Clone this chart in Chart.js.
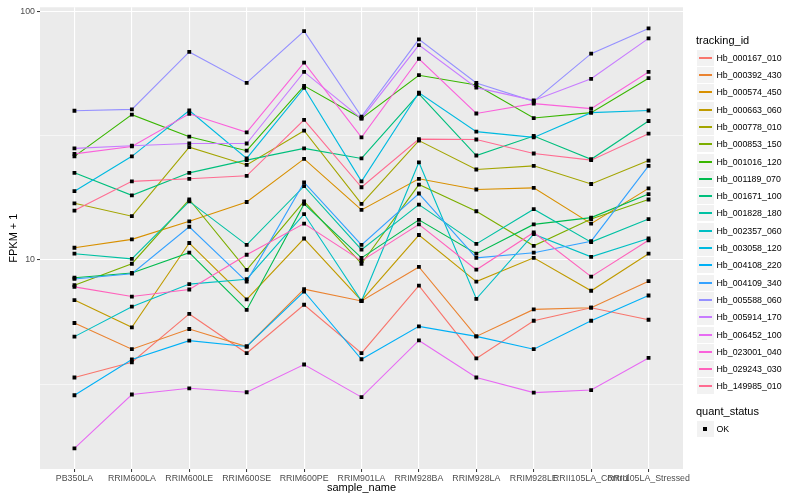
<!DOCTYPE html>
<html><head><meta charset="utf-8">
<script src="https://cdn.jsdelivr.net/npm/chart.js@4.4.1/dist/chart.umd.min.js"></script>
<style>
html,body{margin:0;padding:0;background:#fff;}
#wrap{position:relative;width:800px;height:500px;font-family:"Liberation Sans",Arial,sans-serif;}
canvas{position:absolute;left:0;top:0;}
.ttl{font-size:11px;color:#000;position:absolute;left:696px;white-space:nowrap;line-height:13px;}
.row{position:absolute;left:697px;height:17px;width:100px;}
.key{position:absolute;left:0;top:0;width:17px;height:16px;background:#F2F2F2;}
.key i{position:absolute;left:2px;width:13px;top:7px;height:2px;}
.key b{position:absolute;left:6px;top:6px;width:4px;height:4px;background:#000;}
.lab{position:absolute;left:19.5px;top:0;line-height:16px;font-size:8.8px;color:#000;white-space:nowrap;}
</style></head>
<body>
<div id="wrap"><canvas id="c" width="800" height="500"></canvas><div id="legend"></div></div>
<script>
const sampleNames = ["PB350LA","RRIM600LA","RRIM600LE","RRIM600SE","RRIM600PE","RRIM901LA","RRIM928BA","RRIM928LA","RRIM928LE","RRII105LA_Control","RRII105LA_Stressed"];
const trackingIds = ["Hb_000167_010","Hb_000392_430","Hb_000574_450","Hb_000663_060","Hb_000778_010","Hb_000853_150","Hb_001016_120","Hb_001189_070","Hb_001671_100","Hb_001828_180","Hb_002357_060","Hb_003058_120","Hb_004108_220","Hb_004109_340","Hb_005588_060","Hb_005914_170","Hb_006452_100","Hb_023001_040","Hb_029243_030","Hb_149985_010"];
const yTickValues = [3.1623, 10, 31.623, 100];
const yTickLabels = {10: "10", 100: "100"};

const hb_000167_010 = [3.37, 3.88, 6.07, 4.22, 6.61, 4.22, 7.89, 4.02, 5.70, 6.43, 5.75];
const hb_000392_430 = [5.58, 4.38, 5.28, 4.49, 7.63, 6.84, 9.38, 4.93, 6.33, 6.43, 8.22];
const hb_000574_450 = [11.2, 12.1, 14.3, 17.1, 25.5, 15.9, 21.2, 19.2, 19.5, 14.0, 19.4];
const hb_000663_060 = [6.90, 5.36, 11.7, 6.94, 12.2, 6.86, 12.6, 8.19, 10.2, 7.52, 10.6];
const hb_000778_010 = [16.9, 15.0, 28.4, 24.1, 33.1, 16.8, 30.2, 23.1, 23.9, 20.2, 25.1];
const hb_000853_150 = [7.92, 9.66, 17.5, 9.12, 17.2, 9.66, 20.1, 15.7, 11.4, 14.6, 17.5];
const hb_001016_120 = [26.1, 38.4, 31.3, 27.5, 50.1, 37.1, 55.3, 50.5, 37.2, 39.1, 53.8];
const hb_001189_070 = [8.49, 8.87, 10.7, 6.30, 16.8, 10.2, 14.5, 10.6, 13.9, 14.8, 18.4];
const hb_001671_100 = [22.4, 18.2, 22.4, 25.2, 28.1, 25.6, 46.5, 26.3, 31.5, 25.4, 36.2];
const hb_001828_180 = [10.6, 10.1, 17.2, 11.5, 19.8, 11.0, 16.7, 11.6, 16.0, 11.8, 14.6];
const hb_002357_060 = [4.92, 6.49, 8.00, 8.37, 15.3, 6.84, 24.7, 6.98, 12.7, 10.3, 12.2];
const hb_003058_120 = [18.9, 26.1, 39.9, 25.6, 49.2, 20.7, 47.0, 32.8, 31.1, 39.1, 39.9];
const hb_004108_220 = [2.86, 3.98, 4.74, 4.49, 7.47, 3.99, 5.41, 4.93, 4.38, 5.70, 7.20];
const hb_004109_340 = [8.39, 8.81, 13.6, 8.19, 20.5, 11.5, 18.5, 10.2, 10.7, 11.9, 23.9];
const hb_005588_060 = [39.8, 40.3, 68.6, 51.5, 83.2, 37.7, 77.1, 51.5, 43.4, 67.5, 85.3];
const hb_005914_170 = [28.1, 28.8, 29.4, 29.4, 57.0, 37.0, 73.1, 49.3, 43.8, 53.5, 77.8];
const hb_006452_100 = [1.75, 2.88, 3.05, 2.94, 3.80, 2.81, 4.75, 3.37, 2.93, 3.00, 4.04];
const hb_023001_040 = [26.7, 28.6, 38.7, 32.6, 62.1, 31.1, 64.4, 38.8, 42.5, 40.6, 57.0];
const hb_029243_030 = [7.80, 7.13, 7.61, 10.5, 14.0, 9.91, 13.9, 9.14, 12.9, 8.57, 12.0];
const hb_149985_010 = [15.8, 20.7, 21.2, 21.8, 36.6, 19.6, 30.6, 30.5, 26.8, 25.2, 32.2];

const seriesValues = [hb_000167_010, hb_000392_430, hb_000574_450, hb_000663_060, hb_000778_010, hb_000853_150, hb_001016_120, hb_001189_070, hb_001671_100, hb_001828_180, hb_002357_060, hb_003058_120, hb_004108_220, hb_004109_340, hb_005588_060, hb_005914_170, hb_006452_100, hb_023001_040, hb_029243_030, hb_149985_010];
const palette = ["#F8766D","#EA8331","#D89000","#C09B00","#A3A500","#7CAE00","#39B600","#00BB4E","#00BF7D","#00C1A3","#00BFC4","#00BAE0","#00B0F6","#35A2FF","#9590FF","#C77CFF","#E76BF3","#FA62DB","#FF62BC","#FF6C91"];

const FONT = '"Liberation Sans", Arial, sans-serif';

const lineSets = seriesValues.map((vals, k) => ({
  label: trackingIds[k],
  data: vals.map((v, i) => ({x: i, y: v})),
  borderColor: palette[k], backgroundColor: palette[k],
  borderWidth: 1.1, pointRadius: 0, tension: 0, fill: false,
  order: 100 - k
}));
const pointSets = seriesValues.map((vals, k) => ({
  label: trackingIds[k] + " OK",
  data: vals.map((v, i) => ({x: i, y: v})),
  showLine: false, pointStyle: 'rect', pointRadius: 2.7,
  pointBackgroundColor: '#000', pointBorderWidth: 0, borderColor: '#000',
  order: 0
}));

const panelBg = {
  id: 'panelBg',
  beforeDraw(chart) {
    const {ctx, chartArea: a} = chart;
    ctx.save();
    ctx.fillStyle = '#EBEBEB';
    ctx.fillRect(a.left, a.top, a.right - a.left, a.bottom - a.top);
    ctx.restore();
  }
};
const isMajor = v => Math.abs(v - 10) < 1e-6 || Math.abs(v - 100) < 1e-6;

new Chart(document.getElementById('c'), {
  type: 'line',
  data: {datasets: [...pointSets, ...lineSets]},
  plugins: [panelBg],
  options: {
    responsive: false, animation: false,
    layout: {padding: {left: 0, right: 117, top: 5, bottom: 0}},
    plugins: {legend: {display: false}, tooltip: {enabled: false}},
    scales: {
      x: {
        type: 'linear', min: -0.6, max: 10.6,
        afterBuildTicks: s => { s.ticks = sampleNames.map((_, i) => ({value: i})); },
        afterFit: s => { s.height = 31; },
        ticks: {autoSkip: false, maxRotation: 0, minRotation: 0, padding: 1, color: '#4D4D4D',
          font: {size: 8.8, family: FONT}, callback: v => sampleNames[v] ?? ''},
        grid: {color: '#FFFFFF', lineWidth: 1.1, tickLength: 3, tickColor: '#333333', tickWidth: 1},
        border: {display: false},
        title: {display: true, text: 'sample_name', color: '#000', font: {size: 11, family: FONT}, padding: {top: 0, bottom: 5}}
      },
      y: {
        type: 'logarithmic', min: 1.445, max: 103.7,
        afterBuildTicks: s => { s.ticks = yTickValues.map(v => ({value: v})); },
        afterFit: s => { s.width = 40; },
        ticks: {autoSkip: false, padding: 2, color: '#4D4D4D', font: {size: 8.8, family: FONT},
          callback: v => yTickLabels[Math.round(v)] && isMajor(v) ? yTickLabels[Math.round(v)] : ''},
        grid: {color: '#FFFFFF', lineWidth: c => (c.tick && isMajor(c.tick.value)) ? 1.1 : 0.55,
          tickLength: 3, tickWidth: 1,
          tickColor: c => (c.tick && isMajor(c.tick.value)) ? '#333333' : 'rgba(0,0,0,0)'},
        border: {display: false},
        title: {display: true, text: 'FPKM + 1', color: '#000', font: {size: 11, family: FONT}, padding: {top: 7, bottom: 0}}
      }
    }
  }
});

// legend
const lg = document.getElementById('legend');
let html = '<div class="ttl" style="top:34px">tracking_id</div>';
trackingIds.forEach((id, k) => {
  const top = Math.round(57.7 + 17.3 * k - 8);
  html += `<div class="row" style="top:${top}px"><div class="key"><i style="background:${palette[k]}"></i></div><div class="lab">${id}</div></div>`;
});
html += '<div class="ttl" style="top:405px">quant_status</div>';
html += '<div class="row" style="top:421px"><div class="key"><b></b></div><div class="lab">OK</div></div>';
lg.innerHTML = html;
</script>
</body></html>
